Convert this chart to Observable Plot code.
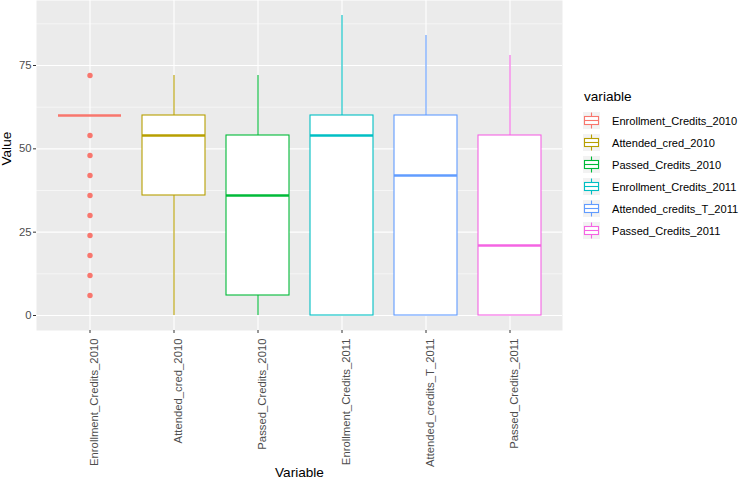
<!DOCTYPE html>
<html>
<head>
<meta charset="utf-8">
<script src="https://cdn.jsdelivr.net/npm/d3@7"></script>
<script src="https://cdn.jsdelivr.net/npm/@observablehq/plot@0.6"></script>
<style>
  html, body { margin: 0; padding: 0; background: #fff; }
  #wrap { position: relative; width: 740px; height: 482px; font-family: "Liberation Sans", Arial, sans-serif; }
  #legend { position: absolute; left: 0; top: 0; }
</style>
</head>
<body>
<div id="wrap"></div>
<script>
const categories = ["Enrollment_Credits_2010", "Attended_cred_2010", "Passed_Credits_2010",
                    "Enrollment_Credits_2011", "Attended_credits_T_2011", "Passed_Credits_2011"];
const whiskerMin = [60, 0, 0, 0, 0, 0];
const q1 = [60, 36, 6, 0, 0, 0];
const median = [60, 54, 36, 54, 42, 21];
const q3 = [60, 60, 54, 60, 60, 54];
const whiskerMax = [60, 72, 72, 90, 84, 78];
const outlierCategory = "Enrollment_Credits_2010";
const outlierValues = [72, 54, 48, 42, 36, 30, 24, 18, 12, 6];
const colors = ["#F8766D", "#B79F00", "#00BA38", "#00BFC4", "#619CFF", "#F564E3"];
const yTicks = [0, 25, 50, 75];
const yMinor = [12.5, 37.5, 62.5, 87.5];
const yDomain = [-4.5, 94.5];

const stats = categories.map((name, i) => ({
  name, min: whiskerMin[i], q1: q1[i], median: median[i], q3: q3[i], max: whiskerMax[i]
}));
const outliers = outlierValues.map(v => ({name: outlierCategory, value: v}));

const font = '"Liberation Sans", Arial, sans-serif';

const chart = Plot.plot({
  width: 740,
  height: 482,
  marginLeft: 36,
  marginRight: 178,
  marginTop: 0,
  marginBottom: 152,
  style: {fontFamily: font, background: "transparent", overflow: "visible"},
  x: {domain: categories, paddingInner: 0.25, paddingOuter: 0.225, align: 0.5},
  y: {domain: yDomain},
  color: {domain: categories, range: colors},
  marks: [
    Plot.frame({fill: "#EBEBEB", stroke: null}),
    Plot.ruleY(yMinor, {stroke: "#FFFFFF", strokeWidth: 0.55}),
    Plot.ruleY(yTicks, {stroke: "#FFFFFF", strokeWidth: 1.1}),
    Plot.ruleX(categories, {stroke: "#FFFFFF", strokeWidth: 1.1}),
    Plot.ruleX(stats, {x: "name", y1: "q3", y2: "max", stroke: "name", strokeWidth: 1.1}),
    Plot.ruleX(stats, {x: "name", y1: "q1", y2: "min", stroke: "name", strokeWidth: 1.1}),
    Plot.rectY(stats, {x: "name", y1: "q1", y2: "q3", fill: "white", stroke: "name", strokeWidth: 1.1}),
    Plot.tickY(stats, {x: "name", y: "median", stroke: "name", strokeWidth: 2.4}),
    Plot.dot(outliers, {x: "name", y: "value", fill: "name", r: 2.7, stroke: null}),
    Plot.axisY(yTicks, {tickSize: 3, tickPadding: 2, label: null, fontSize: 11.3, color: "#4D4D4D", stroke: "#333333"}),
    Plot.axisX({tickSize: 3, tickFormat: () => "", label: null, stroke: "#333333"}),
    Plot.text(categories, {x: d => d, frameAnchor: "bottom", rotate: -90, textAnchor: "end", lineAnchor: "middle",
                           dx: 4.5, dy: 8, fontSize: 11.3, fill: "#4D4D4D"}),
    Plot.text(["Value"], {frameAnchor: "left", dx: -30, rotate: -90, fontSize: 13.6, fill: "black"}),
    Plot.text(["Variable"], {frameAnchor: "bottom", dy: 146, fontSize: 13.6, fill: "black"})
  ]
});
document.getElementById("wrap").appendChild(chart);

// legend
const lx = 583, ly = 86, step = 22;
const svg = d3.select("#wrap").append("svg")
  .attr("id", "legend").attr("width", 740).attr("height", 482)
  .style("font-family", font);
svg.append("text").attr("x", lx + 1).attr("y", ly + 15).attr("font-size", 13.6).attr("fill", "black").text("variable");
categories.forEach((c, i) => {
  const y0 = ly + 26 + i * step;
  const g = svg.append("g").attr("transform", `translate(${lx},${y0})`);
  g.append("rect").attr("x", 0).attr("y", 0).attr("width", 17).attr("height", 17).attr("fill", "#F2F2F2");
  g.append("line").attr("x1", 8.5).attr("x2", 8.5).attr("y1", 0.5).attr("y2", 16.5).attr("stroke", colors[i]).attr("stroke-width", 1.1);
  g.append("rect").attr("x", 1.5).attr("y", 4.5).attr("width", 14).attr("height", 8).attr("fill", "white").attr("stroke", colors[i]).attr("stroke-width", 1.1);
  g.append("line").attr("x1", 1.5).attr("x2", 15.5).attr("y1", 8.5).attr("y2", 8.5).attr("stroke", colors[i]).attr("stroke-width", 1.1);
  svg.append("text").attr("x", lx + 29).attr("y", y0 + 13).attr("font-size", 11.1).attr("fill", "black").text(c);
});
</script>
</body>
</html>
